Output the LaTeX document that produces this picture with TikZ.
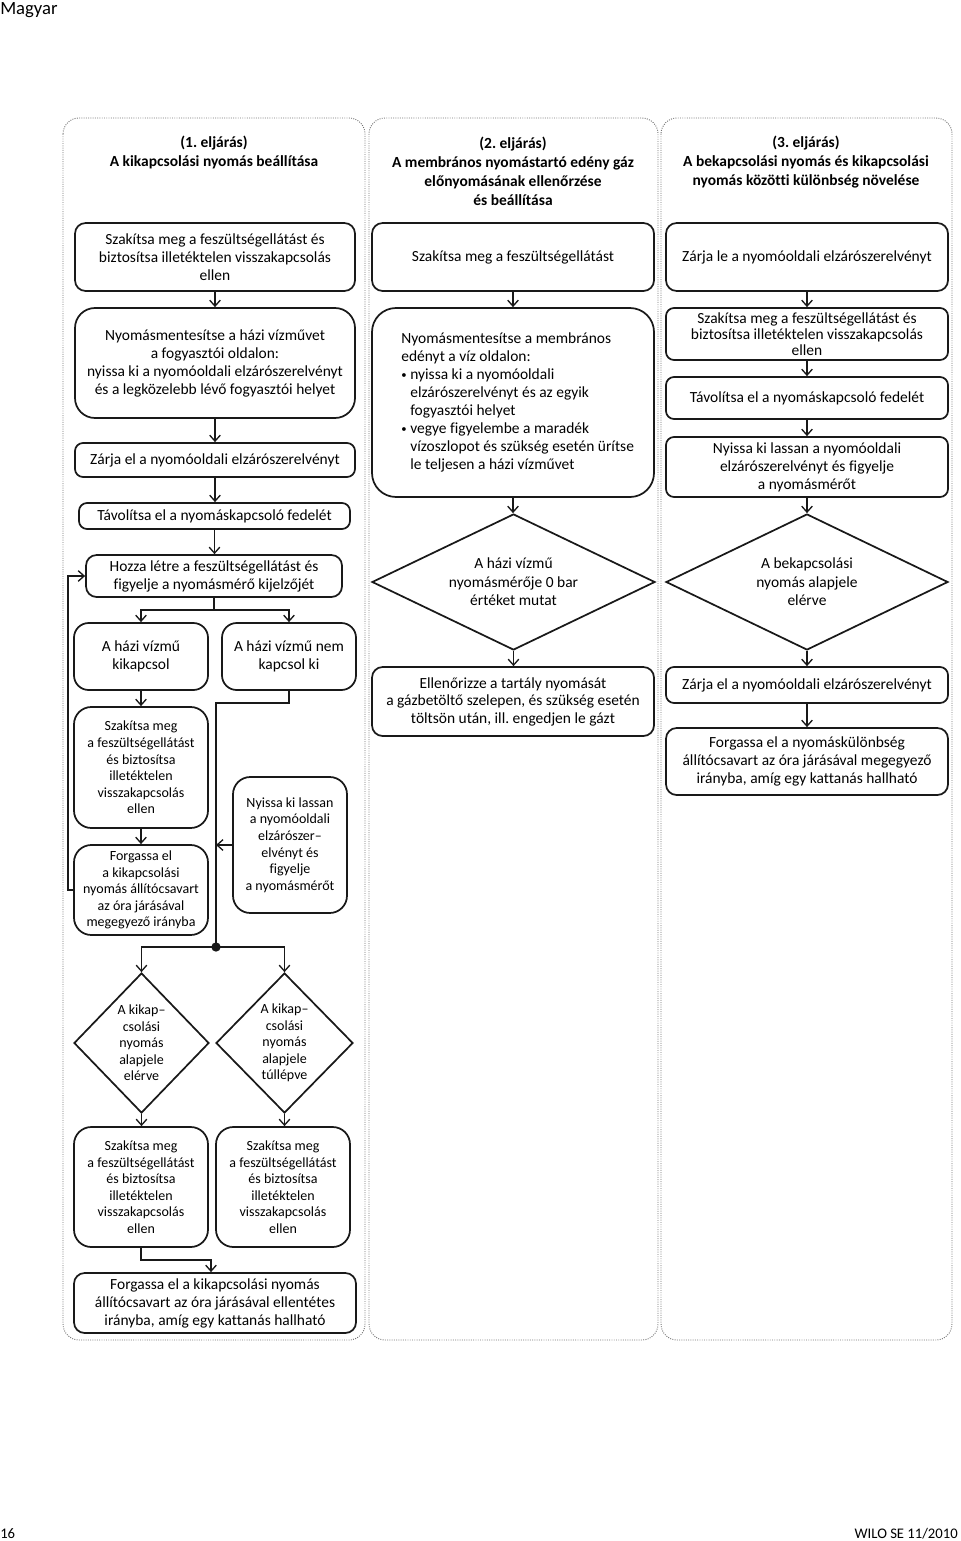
\documentclass[tikz,border=0pt]{standalone}
\usepackage{fontspec}
\setmainfont{Carlito}[Ligatures={TeX,NoCommon}]
\usetikzlibrary{arrows.meta,shapes.geometric}
\frenchspacing
\newcommand{\pxu}{0.75pt}
\newcommand{\blt}{\makebox[6.75pt][l]{\raisebox{0.6pt}{\footnotesize\textbullet}}}
\tikzset{
  txt/.style={font=\fontsize{11.6}{13.5}\selectfont},
  tight/.style={font=\fontsize{10.5}{12.4}\selectfont},
  box/.style={draw=black!90, line width=1.3pt, rounded corners=6pt, align=center, inner sep=0pt, txt},
  dia/.style={draw=black!90, line width=1.3pt, shape=diamond, align=center, inner sep=0pt, txt},
  hd/.style={align=center, inner sep=0pt, font=\fontsize{11.6}{14.25}\selectfont\bfseries},
  col/.style={draw=black!55, densely dotted, line width=0.7pt, rounded corners=12pt},
  ln/.style={draw=black!90, line width=1pt},
  arr/.style={ln, -{Straight Barb[length=4.5pt,width=8pt,line width=1pt]}},
}
\begin{document}
\frenchspacing
\begin{tikzpicture}[x=0.75pt,y=-0.75pt]
\useasboundingbox (0,0) rectangle (960,1541);

% page labels
\node[anchor=base west, inner sep=0pt, font=\fontsize{14}{16}\selectfont] (lang) at (0,15) {Magyar};
\node[anchor=base west, inner sep=0pt, font=\fontsize{11}{13}\selectfont] (pg) at (0,1538) {16};
\node[anchor=base east, inner sep=0pt, font=\fontsize{11}{13}\selectfont] (ft) at (958,1538) {WILO SE 11/2010};

% column frames
\draw[col] (63,118) rectangle (365,1340);
\draw[col] (369,118) rectangle (658,1340);
\draw[col] (661,118) rectangle (952,1340);

% headings
\node[hd] (H1) at (214,152) {(1. eljárás)\\A kikapcsolási nyomás beállítása};
\node[hd] (H2) at (513,171) {(2. eljárás)\\A membrános nyomástartó edény gáz\\előnyomásának ellenőrzése\\és beállítása};
\node[hd] (H3) at (806,162) {(3. eljárás)\\A bekapcsolási nyomás és kikapcsolási\\nyomás közötti különbség növelése};

% column 1
\node[box,minimum width=280*\pxu,minimum height=68*\pxu,rounded corners=8pt] (B1) at (215,257) {Szakítsa meg a feszültségellátást és\\biztosítsa illetéktelen visszakapcsolás\\ellen};
\node[box,minimum width=280*\pxu,minimum height=110*\pxu,rounded corners=15pt] (B2) at (215,363) {Nyomásmentesítse a házi vízművet\\a fogyasztói oldalon:\\nyissa ki a nyomóoldali elzárószerelvényt\\és a legközelebb lévő fogyasztói helyet};
\node[box,minimum width=280*\pxu,minimum height=34*\pxu] (B3) at (215,460) {Zárja el a nyomóoldali elzárószerelvényt};
\node[box,minimum width=271*\pxu,minimum height=26*\pxu] (B4) at (214.5,516) {Távolítsa el a nyomáskapcsoló fedelét};
\node[box,minimum width=256*\pxu,minimum height=42*\pxu,rounded corners=8pt] (B5) at (214,576) {Hozza létre a feszültségellátást és\\figyelje a nyomásmérő kijelzőjét};
\node[box,minimum width=134*\pxu,minimum height=67*\pxu,rounded corners=11pt] (B6) at (141,656.5) {A házi vízmű\\kikapcsol};
\node[box,minimum width=134*\pxu,minimum height=67*\pxu,rounded corners=11pt] (B7) at (289,656.5) {A házi vízmű nem\\kapcsol ki};
\node[box,tight,minimum width=134*\pxu,minimum height=121*\pxu,rounded corners=13pt] (B8) at (141,767.5) {Szakítsa meg\\a feszültségellátást\\és biztosítsa\\illetéktelen\\visszakapcsolás\\ellen};
\node[box,tight,minimum width=134*\pxu,minimum height=90*\pxu,rounded corners=13pt] (B9) at (141,890) {Forgassa el\\a kikapcsolási\\nyomás állítócsavart\\az óra járásával\\megegyező irányba};
\node[box,tight,minimum width=114*\pxu,minimum height=136*\pxu,rounded corners=13pt] (B10) at (290,845) {Nyissa ki lassan\\a nyomóoldali\\elzárószer–\\elvényt és\\figyelje\\a nyomásmérőt};
\node[dia,tight,minimum width=135*\pxu,minimum height=140*\pxu] (D1) at (141.5,1043) {A kikap–\\csolási\\nyomás\\alapjele\\elérve};
\node[dia,tight,minimum width=137*\pxu,minimum height=140*\pxu] (D2) at (284.5,1043) {A kikap–\\csolási\\nyomás\\alapjele\\túllépve};
\node[box,tight,minimum width=134*\pxu,minimum height=120*\pxu,rounded corners=13pt] (B11) at (141,1187) {Szakítsa meg\\a feszültségellátást\\és biztosítsa\\illetéktelen\\visszakapcsolás\\ellen};
\node[box,tight,minimum width=134*\pxu,minimum height=120*\pxu,rounded corners=13pt] (B12) at (283,1187) {Szakítsa meg\\a feszültségellátást\\és biztosítsa\\illetéktelen\\visszakapcsolás\\ellen};
\node[box,minimum width=282*\pxu,minimum height=60*\pxu,rounded corners=8pt] (B13) at (215,1303) {Forgassa el a kikapcsolási nyomás\\állítócsavart az óra járásával ellentétes\\irányba, amíg egy kattanás hallható};

% column 2
\node[box,minimum width=282*\pxu,minimum height=68*\pxu,rounded corners=8pt] (C1) at (513,257) {Szakítsa meg a feszültségellátást};
\node[box,minimum width=282*\pxu,minimum height=189*\pxu,rounded corners=18pt] (C2) at (513,402.5) {\hspace*{13.5pt}\parbox{181pt}{\raggedright Nyomásmentesítse a membrános\\edényt a víz oldalon:\\\blt nyissa ki a nyomóoldali\\\hspace*{6.75pt}elzárószerelvényt és az egyik\\\hspace*{6.75pt}fogyasztói helyet\\\blt vegye figyelembe a maradék\\\hspace*{6.75pt}vízoszlopot és szükség esetén ürítse\\\hspace*{6.75pt}le teljesen a házi vízművet}};
\node[dia,minimum width=283*\pxu,minimum height=136*\pxu,aspect=2,font=\fontsize{11.6}{13.8}\selectfont] (D3) at (513.5,582) {A házi vízmű\\nyomásmérője 0 bar\\értéket mutat};
\node[box,minimum width=282*\pxu,minimum height=69*\pxu,rounded corners=8pt,font=\fontsize{11.6}{13.1}\selectfont] (C3) at (513,701.5) {Ellenőrizze a tartály nyomását\\a gázbetöltő szelepen, és szükség esetén\\töltsön után, ill. engedjen le gázt};

% column 3
\node[box,minimum width=282*\pxu,minimum height=68*\pxu,rounded corners=8pt] (E1) at (807,257) {Zárja le a nyomóoldali elzárószerelvényt};
\node[box,minimum width=282*\pxu,minimum height=52*\pxu,font=\fontsize{11.6}{12}\selectfont] (E2) at (807,334) {Szakítsa meg a feszültségellátást és\\biztosítsa illetéktelen visszakapcsolás\\ellen};
\node[box,minimum width=282*\pxu,minimum height=42*\pxu] (E3) at (807,398) {Távolítsa el a nyomáskapcsoló fedelét};
\node[box,minimum width=282*\pxu,minimum height=60*\pxu] (E4) at (807,467) {Nyissa ki lassan a nyomóoldali\\elzárószerelvényt és figyelje\\a nyomásmérőt};
\node[dia,minimum width=282*\pxu,minimum height=136*\pxu,aspect=2,font=\fontsize{11.6}{13.8}\selectfont] (D4) at (807,582) {A bekapcsolási\\nyomás alapjele\\elérve};
\node[box,minimum width=282*\pxu,minimum height=36*\pxu] (E5) at (807,685) {Zárja el a nyomóoldali elzárószerelvényt};
\node[box,minimum width=282*\pxu,minimum height=67*\pxu,rounded corners=8pt] (E6) at (807,761.5) {Forgassa el a nyomáskülönbség\\állítócsavart az óra járásával megegyező\\irányba, amíg egy kattanás hallható};

% connectors column 1
\draw[arr] (B1.south) -- (B1.south |- B2.north);
\draw[arr] (B2.south) -- (B2.south |- B3.north);
\draw[arr] (B3.south) -- (B3.south |- B4.north);
\draw[arr] (B4.south) -- (B4.south |- B5.north);
\coordinate (s1) at (214,610);
\draw[ln] (B5.south) -- (s1);
\draw[arr] (s1) -| (B6.north);
\draw[arr] (s1) -| (B7.north);
\draw[arr] (B6.south) -- (B6.south |- B8.north);
\draw[arr] (B8.south) -- (B8.south |- B9.north);
\coordinate (j1) at (216,703);
\node[circle, fill=black!90, inner sep=0pt, minimum size=7pt] (J) at (216,947) {};
\draw[ln] (B7.south) |- (j1) -- (J.center);
\draw[arr] (B10.west) -- (B10.west -| j1);
\coordinate (lp) at (68,890);
\draw[arr] (B9.west) -- (lp) |- (B5.west);
\draw[arr] (J.center) -| (D1.north);
\draw[arr] (J.center) -| (D2.north);
\draw[arr] (D1.south) -- (D1.south |- B11.north);
\draw[arr] (D2.south) -- (D2.south |- B12.north);
\coordinate (k) at (211,1260);
\draw[arr] (B11.south) |- (k) -- (k |- B13.north);

% connectors column 2
\draw[arr] (C1.south) -- (C1.south |- C2.north);
\draw[arr] (C2.south) -- (C2.south |- D3.north);
\draw[arr] (D3.south) -- (D3.south |- C3.north);

% connectors column 3
\draw[arr] (E1.south) -- (E1.south |- E2.north);
\draw[arr] (E2.south) -- (E2.south |- E3.north);
\draw[arr] (E3.south) -- (E3.south |- E4.north);
\draw[arr] (E4.south) -- (E4.south |- D4.north);
\draw[arr] (D4.south) -- (D4.south |- E5.north);
\draw[arr] (E5.south) -- (E5.south |- E6.north);
\end{tikzpicture}
\end{document}
